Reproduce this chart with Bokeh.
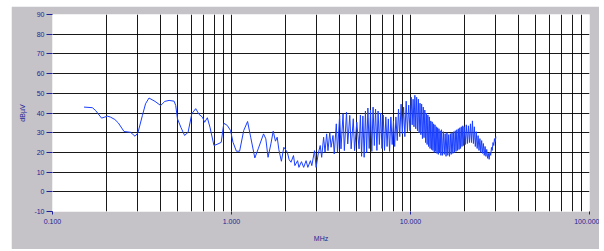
from bokeh.plotting import figure
from bokeh.models import FixedTicker, CustomJSTickFormatter
from bokeh.embed import file_html
from bokeh.resources import INLINE

# ---- data: frequency (MHz) and level (dBuV) ----
freq_low = [0.150, 0.167, 0.174, 0.188, 0.203, 0.211, 0.223, 0.233, 0.251, 0.273,
            0.289, 0.300, 0.318, 0.331, 0.346, 0.374, 0.402, 0.424, 0.448, 0.478,
            0.488, 0.499, 0.521, 0.547, 0.572, 0.600, 0.631, 0.659, 0.688, 0.708,
            0.733, 0.758, 0.798, 0.840, 0.876, 0.906, 0.947, 0.988, 1.020, 1.065,
            1.110, 1.170, 1.230, 1.280, 1.350, 1.410, 1.510, 1.555, 1.600, 1.660,
            1.710, 1.760, 1.800, 1.840, 1.900, 1.960, 2.050, 2.100, 2.150, 2.220,
            2.260, 2.340, 2.380, 2.460, 2.530, 2.610, 2.670, 2.760, 2.810, 2.910,
            2.970]
db_low = [43.0, 42.7, 41.3, 37.4, 38.4, 37.9, 36.7, 35.0, 30.6, 30.2,
          28.2, 29.9, 38.8, 44.7, 47.6, 45.9, 43.8, 45.9, 46.4, 46.0,
          43.8, 37.1, 32.8, 28.6, 30.2, 39.6, 42.2, 39.3, 37.9, 35.3,
          37.6, 32.8, 23.5, 24.3, 25.1, 34.8, 33.7, 31.1, 25.1, 20.6,
          20.6, 31.1, 35.7, 27.7, 17.2, 21.8, 29.4, 26.9, 17.5, 24.3,
          30.8, 25.7, 27.7, 21.3, 15.5, 22.6, 20.1, 16.3, 15.0, 18.4,
          13.3, 15.8, 12.4, 15.3, 12.4, 15.8, 12.4, 15.8, 13.3, 20.9,
          12.4]

freq_mid = [3.05, 3.13, 3.19, 3.27, 3.33, 3.40, 3.46, 3.54, 3.60, 3.69,
            3.75, 3.85, 3.91, 4.02, 4.09, 4.20, 4.27, 4.39, 4.46, 4.58,
            4.66, 4.79, 4.87, 5.01, 5.16, 5.25, 5.33, 5.42, 5.51, 5.60,
            5.69, 5.78, 5.88, 5.98, 6.08, 6.18, 6.28, 6.38, 6.49, 6.59,
            6.70, 6.81, 6.93, 7.04, 7.16, 7.28, 7.40, 7.52, 7.64, 7.77,
            7.90, 8.03, 8.16, 8.29, 8.43, 8.57, 8.71, 8.86, 9.00, 9.15,
            9.30, 9.46, 9.61, 9.77, 9.93, 10.10]
db_mid = [19.2, 23.5, 17.5, 27.7, 20.1, 29.4, 20.9, 30.2, 22.6, 28.6,
          19.2, 34.5, 20.1, 38.8, 21.8, 39.6, 20.9, 40.4, 24.3, 38.8,
          21.8, 37.1, 20.9, 35.3, 21.8, 39.0, 18.0, 38.5, 17.5, 41.0,
          20.0, 42.5, 22.0, 41.5, 20.5, 43.0, 23.5, 42.0, 21.0, 41.0,
          24.0, 40.0, 22.0, 39.0, 21.0, 38.0, 23.0, 37.0, 20.5, 38.0,
          24.0, 36.0, 23.0, 38.0, 26.0, 42.0, 28.0, 44.5, 29.5, 43.0,
          28.0, 46.0, 30.5, 44.0, 31.0, 48.0]

freq_high = [10.22, 10.34, 10.46, 10.58, 10.70, 10.82, 10.94, 11.06, 11.18, 11.30,
             11.42, 11.54, 11.66, 11.78, 11.90, 12.02, 12.14, 12.26, 12.38, 12.50,
             12.62, 12.74, 12.86, 12.98, 13.10, 13.22, 13.34, 13.46, 13.58, 13.70,
             13.82, 13.94, 14.06, 14.18, 14.30, 14.42, 14.54, 14.66, 14.78, 14.90,
             15.08, 15.26, 15.44, 15.62, 15.80, 15.98, 16.16, 16.34, 16.52, 16.70,
             16.88, 17.06, 17.24, 17.42, 17.60, 17.78, 17.96, 18.14, 18.32, 18.50,
             18.68, 18.86, 19.04, 19.22, 19.40, 19.58, 19.76, 19.94,
             20.22, 20.50, 20.78, 21.06, 21.34, 21.62, 21.90, 22.18, 22.46, 22.74,
             23.02, 23.30, 23.58, 23.86, 24.14, 24.42, 24.70, 24.98, 25.26, 25.54,
             25.82, 26.10, 26.38, 26.66, 26.94, 27.22, 27.50, 27.78, 28.06, 28.34,
             28.62, 28.90, 29.18, 29.46, 29.74, 30.00]
db_high = [34.0, 47.0, 33.0, 49.0, 32.0, 48.0, 31.0, 47.0, 30.0, 45.0,
           29.0, 44.5, 27.0, 43.0, 27.5, 41.5, 25.0, 40.0, 24.0, 39.0,
           23.0, 38.0, 22.0, 36.0, 21.5, 35.5, 21.0, 34.5, 20.0, 34.0,
           20.5, 33.0, 19.5, 32.5, 19.0, 32.0, 20.0, 31.0, 18.5, 31.5,
           18.5, 30.5, 19.0, 29.5, 18.0, 30.0, 18.5, 29.0, 18.0, 29.5,
           19.0, 30.0, 19.5, 30.5, 20.0, 31.0, 20.5, 31.5, 21.0, 32.0,
           21.5, 32.5, 22.0, 33.0, 23.0, 33.5, 23.5, 33.0,
           24.0, 34.0, 24.5, 33.5, 25.0, 34.5, 25.0, 36.0, 24.5, 33.0,
           23.0, 30.5, 22.0, 28.5, 21.0, 27.0, 20.0, 26.0, 19.5, 24.5,
           18.5, 23.0, 18.0, 21.5, 17.0, 19.5, 16.5, 20.0, 18.5, 22.5,
           21.0, 25.0, 23.5, 27.0, 25.5, 28.0]

x_tick_values = [0.1, 1, 10, 100]
y_tick_values = [-10, 0, 10, 20, 30, 40, 50, 60, 70, 80, 90]
x_grid_values = [0.2, 0.3, 0.4, 0.5, 0.6, 0.7, 0.8, 0.9, 1, 2, 3, 4, 5, 6, 7, 8, 9,
                 10, 20, 30, 40, 50, 60, 70, 80, 90]
y_grid_values = [0, 10, 20, 30, 40, 50, 60, 70, 80]

freq = freq_low + freq_mid + freq_high
level = db_low + db_mid + db_high

NAVY = "#1e1e96"
PANEL = "#c5c3c7"

p = figure(frame_width=537, frame_height=197, x_axis_type="log",
           x_range=(0.1, 100), y_range=(-10, 90),
           output_backend="svg", toolbar_location=None,
           min_border_left=41, min_border_right=10,
           min_border_top=8, min_border_bottom=38)
p.title.visible = False
p.styles = {"margin-left": "11px", "margin-top": "6px"}
p.border_fill_color = PANEL
p.background_fill_color = "white"
p.outline_line_color = None

p.xgrid.ticker = FixedTicker(ticks=x_grid_values)
p.ygrid.ticker = FixedTicker(ticks=y_grid_values)
for g in (p.xgrid, p.ygrid):
    g.grid_line_color = "black"
    g.grid_line_width = 1
    g.grid_line_alpha = 0.9

p.line(freq, level, line_color="#1a3fff", line_width=1)

xa = p.xaxis[0]
xa.ticker = FixedTicker(ticks=x_tick_values)
xa.formatter = CustomJSTickFormatter(code="return tick.toFixed(3);")
ya = p.yaxis[0]
ya.ticker = FixedTicker(ticks=y_tick_values)
ya.formatter = CustomJSTickFormatter(code="return tick.toFixed(0);")

for ax in (xa, ya):
    ax.axis_line_color = None
    ax.major_tick_line_color = NAVY
    ax.minor_tick_line_color = None
    ax.major_tick_in = 0
    ax.major_label_text_color = NAVY
    ax.major_label_text_font = "Liberation Sans"
    ax.major_label_text_font_size = "7px"
    ax.axis_label_text_color = NAVY
    ax.axis_label_text_font = "Liberation Sans"
    ax.axis_label_text_font_size = "7px"
    ax.axis_label_text_font_style = "normal"

xa.major_tick_out = 3
xa.major_label_standoff = 4
xa.axis_label = "MHz"
xa.axis_label_standoff = 8
ya.major_tick_out = 6
ya.major_label_standoff = 2
ya.axis_label = "dBµV"
ya.axis_label_standoff = 5

open("out.html", "w").write(file_html(p, INLINE))
